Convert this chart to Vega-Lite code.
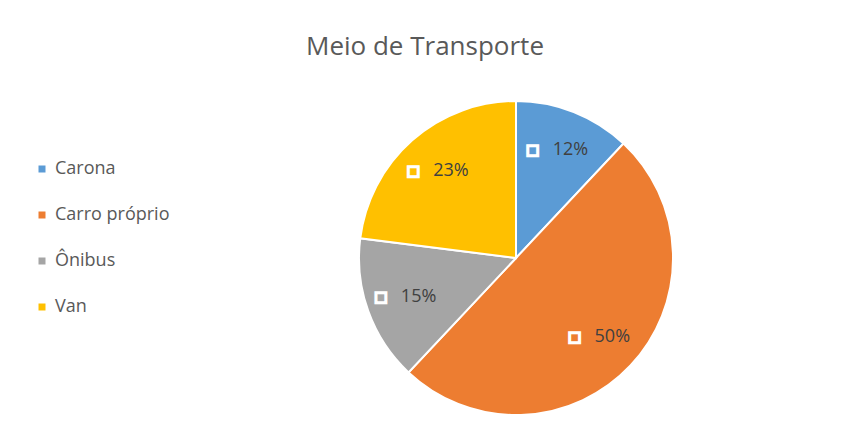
{
  "$schema": "https://vega.github.io/schema/vega-lite/v6.json",
  "width": 652,
  "height": 376,
  "autosize": {"type": "none"},
  "padding": {"left": 190, "top": 70, "right": 0, "bottom": 0},
  "background": "white",
  "config": {"view": {"stroke": null}},
  "title": {
    "text": "Meio de Transporte",
    "fontSize": 26,
    "font": "Open Sans",
    "fontWeight": "normal",
    "color": "#595959",
    "anchor": "middle",
    "dx": -91,
    "offset": 10
  },
  "data": {
    "values": [
      {"meio": "Carona", "valor": 0.12, "ordem": 1},
      {"meio": "Carro próprio", "valor": 0.50, "ordem": 2},
      {"meio": "Ônibus", "valor": 0.15, "ordem": 3},
      {"meio": "Van", "valor": 0.23, "ordem": 4}
    ]
  },
  "encoding": {
    "theta": {"field": "valor", "type": "quantitative", "stack": true},
    "order": {"field": "ordem", "type": "quantitative"},
    "color": {
      "field": "meio",
      "type": "nominal",
      "scale": {
        "domain": ["Carona", "Carro próprio", "Ônibus", "Van"],
        "range": ["#5B9BD5", "#ED7D31", "#A5A5A5", "#FFC000"]
      },
      "legend": {
        "orient": "none",
        "legendX": -157,
        "legendY": 90,
        "title": null,
        "labelFontSize": 18,
        "labelFont": "Open Sans",
        "labelColor": "#595959",
        "symbolType": "square",
        "symbolSize": 49,
        "symbolStrokeWidth": 0,
        "rowPadding": 28,
        "labelOffset": 4
      }
    }
  },
  "layer": [
    {"mark": {"type": "arc", "outerRadius": 157, "stroke": "white", "strokeWidth": 2}},
    {"mark": {"type": "text", "radius": 116, "text": "■", "font": "DejaVu Sans", "fontSize": 13, "stroke": "white", "strokeWidth": 3, "dx": -26, "baseline": "middle"}},
    {
      "mark": {"type": "text", "radius": 116, "align": "left", "dx": -6, "baseline": "middle", "fontSize": 18, "font": "Open Sans"},
      "encoding": {
        "text": {"field": "valor", "type": "quantitative", "format": ".0%"},
        "color": {"value": "#404040"}
      }
    }
  ]
}
